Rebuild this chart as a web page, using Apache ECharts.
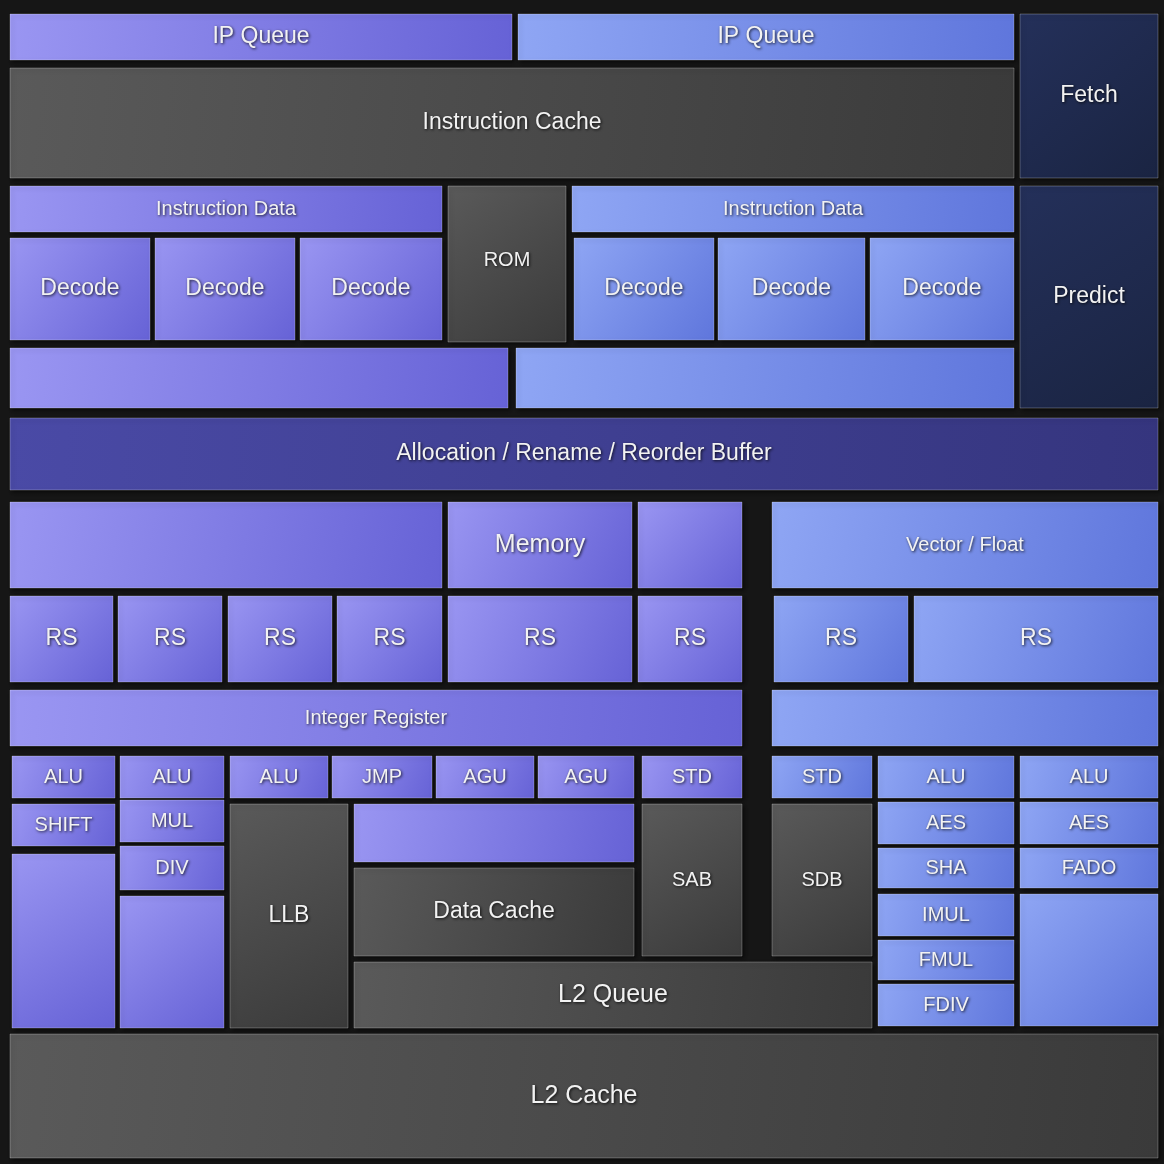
<!DOCTYPE html>
<html>
<head>
<meta charset="utf-8">
<script src="https://cdn.jsdelivr.net/npm/echarts@6/dist/echarts.min.js"></script>
<style>html,body{margin:0;padding:0;background:#161616;}#chart{width:1164px;height:1164px;}</style>
</head>
<body>
<div id="chart"></div>
<script>
// block extents on a 0..1164 grid: [x0, y0, x1, y1]
var blockNames = [
	'IP Queue','IP Queue','Instruction Cache','Fetch',
	'Instruction Data','ROM','Instruction Data',
	'Decode','Decode','Decode','Decode','Decode','Decode',
	'','','Predict',
	'Allocation / Rename / Reorder Buffer',
	'','Memory','','Vector / Float',
	'RS','RS','RS','RS','RS','RS','RS','RS',
	'Integer Register','',
	'ALU','ALU','ALU','JMP','AGU','AGU','STD','STD','ALU','ALU',
	'SHIFT','MUL','DIV','','',
	'LLB','','Data Cache','SAB','SDB','L2 Queue',
	'AES','SHA','IMUL','FMUL','FDIV',
	'AES','FADO','',
	'L2 Cache'
];
var blockKinds = [
	'blueL','blueR','gray','navy',
	'blueL','gray','blueR',
	'blueL','blueL','blueL','blueR','blueR','blueR',
	'blueL','blueR','navy',
	'deep',
	'blueL','blueL','blueL','blueR',
	'blueL','blueL','blueL','blueL','blueL','blueL','blueR','blueR',
	'blueL','blueR',
	'blueL','blueL','blueL','blueL','blueL','blueL','blueL','blueR','blueR','blueR',
	'blueL','blueL','blueL','blueL','blueL',
	'gray','blueL','gray','gray','gray','gray',
	'blueR','blueR','blueR','blueR','blueR',
	'blueR','blueR','blueR',
	'gray'
];
var blockBoxes = [
	[10,14,512,60],[518,14,1014,60],[10,68,1014,178],[1020,14,1158,178],
	[10,186,442,232],[448,186,566,342],[572,186,1014,232],
	[10,238,150,340],[155,238,295,340],[300,238,442,340],[574,238,714,340],[718,238,865,340],[870,238,1014,340],
	[10,348,508,408],[516,348,1014,408],[1020,186,1158,408],
	[10,418,1158,490],
	[10,502,442,588],[448,502,632,588],[638,502,742,588],[772,502,1158,588],
	[10,596,113,682],[118,596,222,682],[228,596,332,682],[337,596,442,682],[448,596,632,682],[638,596,742,682],[774,596,908,682],[914,596,1158,682],
	[10,690,742,746],[772,690,1158,746],
	[12,756,115,798],[120,756,224,798],[230,756,328,798],[332,756,432,798],[436,756,534,798],[538,756,634,798],[642,756,742,798],[772,756,872,798],[878,756,1014,798],[1020,756,1158,798],
	[12,804,115,846],[120,800,224,842],[120,846,224,890],[12,854,115,1028],[120,896,224,1028],
	[230,804,348,1028],[354,804,634,862],[354,868,634,956],[642,804,742,956],[772,804,872,956],[354,962,872,1028],
	[878,802,1014,844],[878,848,1014,888],[878,894,1014,936],[878,940,1014,980],[878,984,1014,1026],
	[1020,802,1158,844],[1020,848,1158,888],[1020,894,1158,1026],
	[10,1034,1158,1158]
];

var fills = {
	blueL: ['#9a96f2', '#6662d6'],
	blueR: ['#8fa6f4', '#5f76dc'],
	gray: ['#5a5a5a', '#3a3a3a'],
	navy: ['#24305a', '#1a2442'],
	deep: ['#4a4aa6', '#35357e']
};
var smallNames = ['ROM', 'SAB', 'SDB', 'Integer Register', 'Instruction Data', 'Vector / Float'];
var bigNames = ['Memory', 'L2 Queue', 'L2 Cache'];

var data = [];
for (var i in blockBoxes){
	var b = blockBoxes[i];
	data.push({ value: [b[0], b[1], b[2], b[3]], name: blockNames[i], kind: blockKinds[i] });
}

var chart = echarts.init(document.getElementById('chart'));
chart.setOption({
	backgroundColor: '#161616',
	animation: false,
	grid: { left: 0, right: 0, top: 0, bottom: 0 },
	xAxis: { type: 'value', min: 0, max: 1164, show: false },
	yAxis: { type: 'value', min: 0, max: 1164, inverse: true, show: false },
	series: [{
		type: 'custom',
		data: data,
		renderItem: function(params, api){
			var item = data[params.dataIndex];
			var p0 = api.coord([api.value(0), api.value(1)]);
			var p1 = api.coord([api.value(2), api.value(3)]);
			var w = p1[0] - p0[0], h = p1[1] - p0[1];
			var c = fills[item.kind];
			var fs = h < 50 ? 20 : 23;
			if (item.name == 'IP Queue') fs = 23;
			if (smallNames.indexOf(item.name) >= 0) fs = 20;
			if (bigNames.indexOf(item.name) >= 0) fs = 25;
			var ty = item.name == 'ROM' ? p0[1] + 74 : p0[1] + h / 2;
			return {
				type: 'group',
				children: [{
					type: 'rect',
					shape: { x: p0[0], y: p0[1], width: w, height: h },
					style: {
						fill: new echarts.graphic.LinearGradient(0, 0, 1, 1, [
							{ offset: 0, color: c[0] }, { offset: 1, color: c[1] }
						]),
						stroke: 'rgba(255,255,255,0.25)',
						lineWidth: 1,
						shadowBlur: 4,
						shadowColor: 'rgba(0,0,0,0.6)',
						shadowOffsetX: 2,
						shadowOffsetY: 2
					}
				}, {
					type: 'text',
					style: {
						text: item.name,
						x: p0[0] + w / 2,
						y: ty,
						align: 'center',
						verticalAlign: 'middle',
						fill: '#f2f2f2',
						font: fs + 'px "Liberation Sans", Arial, sans-serif',
						textShadowColor: 'rgba(0,0,0,0.8)',
						textShadowBlur: 3,
						textShadowOffsetX: 1,
						textShadowOffsetY: 1
					}
				}]
			};
		}
	}]
});
</script>
</body>
</html>
